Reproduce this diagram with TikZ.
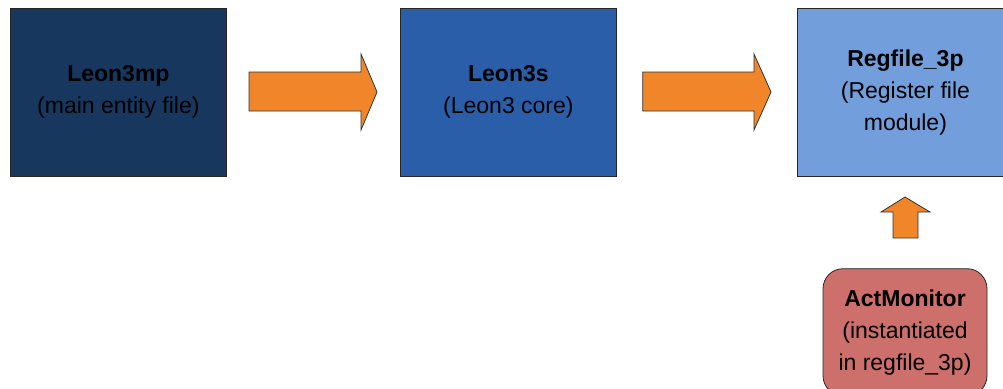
\documentclass[tikz,border=0pt]{standalone}
\usepackage{fontspec}
\setmainfont{Liberation Sans}
\definecolor{navy}{HTML}{17375E}
\definecolor{midblue}{HTML}{2A5EA8}
\definecolor{lightblue}{HTML}{729FDB}
\definecolor{salmon}{HTML}{CD6F6A}
\definecolor{orng}{HTML}{F0852A}
\begin{document}
\begin{tikzpicture}[x=1pt,y=1pt,
  box/.style={draw=black!85, line width=0.8pt, minimum width=216pt, minimum height=168.5pt, inner sep=0pt, align=center, font=\fontsize{23}{32}\selectfont, text=black},
  blockarrow/.style={draw=black!80, line width=0.8pt, fill=orng}]
\useasboundingbox (0,0) rectangle (1003,-388);
\begin{scope}
\clip (0,0) rectangle (1003,-388);
\node[box, fill=navy, anchor=north west] (mp) at (10,-7.5) {\textbf{Leon3mp}\\(main entity file)};
\node[box, fill=midblue, anchor=north west] (s) at (400,-7.5) {\textbf{Leon3s}\\(Leon3 core)};
\node[box, fill=lightblue, anchor=north west] (rf) at (797,-7.5) {\textbf{Regfile\_3p}\\(Register file\\module)};
\node[draw=black!85, line width=0.8pt, fill=salmon, rounded corners=20pt, minimum width=164pt, minimum height=127pt, inner sep=0pt, align=center, font=\fontsize{23}{32}\selectfont, anchor=north] (am) at (905,-268.3) {\textbf{ActMonitor}\\(instantiated\\in regfile\_3p)};
% block arrow 1
\draw[blockarrow] (249,-72) -- (361,-72) -- (361,-54) -- (377,-92) -- (361,-130) -- (361,-111) -- (249,-111) -- cycle;
% block arrow 2
\draw[blockarrow] (642.7,-72) -- (754,-72) -- (754,-54) -- (771,-92) -- (754,-130) -- (754,-111) -- (642.7,-111) -- cycle;
% up arrow
\draw[blockarrow] (893,-238) -- (893,-212) -- (881,-212) -- (905,-197) -- (930,-212) -- (918,-212) -- (918,-238) -- cycle;
\end{scope}
\end{tikzpicture}
\end{document}
